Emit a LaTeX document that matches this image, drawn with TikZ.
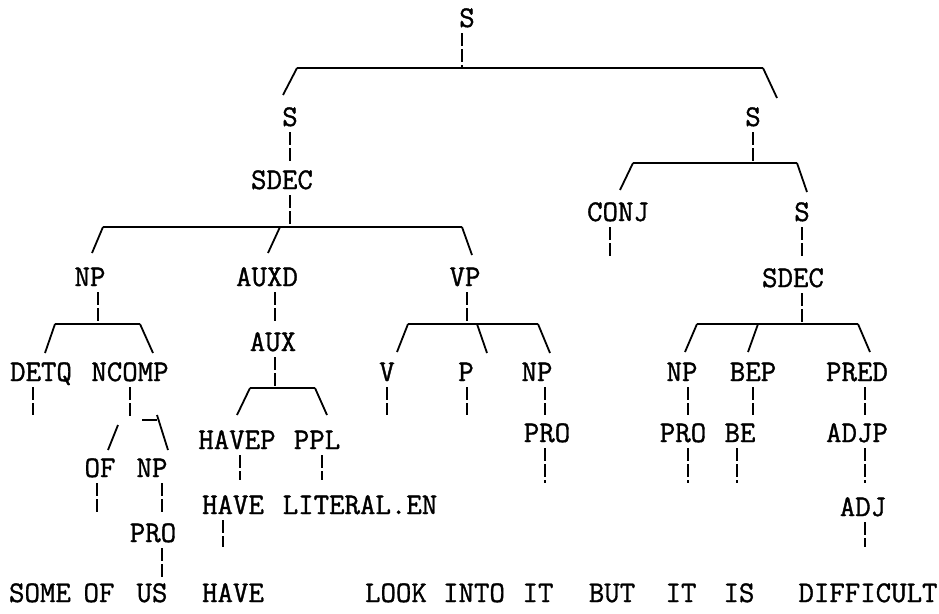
\documentclass[tikz,border=0pt]{standalone}
\usepackage{fontspec}
\newfontfamily\typew{Latin Modern Mono}[FakeBold=1.2]
\usepackage{tikz}
\tikzset{
  lbl/.style={font=\fontsize{30}{30}\selectfont\typew, inner sep=0pt, text height=18pt, text depth=0pt},
  edge/.style={line width=1.8pt},
  vbar/.style={line width=1.8pt, dash pattern=on 13pt off 3pt, shorten <=6pt}
}
\begin{document}
\begin{tikzpicture}[x=1pt,y=-1pt]
\useasboundingbox (0,0) rectangle (939,613);

% labels, top to bottom
\draw(467,18) node[lbl] (s0) {S};
\draw(290,117) node[lbl] (s1) {S};
\draw(753,117) node[lbl] (s2) {S};
\draw(282,180) node[lbl] (sdecl) {SDEC};
\draw(618,212) node[lbl] (conj) {CONJ};
\draw(802,212) node[lbl] (s3) {S};
\draw(90,277) node[lbl] (npl) {NP};
\draw(267,277) node[lbl] (auxd) {AUXD};
\draw(465,277) node[lbl] (vp) {VP};
\draw(793,278) node[lbl] (sdecr) {SDEC};
\draw(273,342) node[lbl] (aux) {AUX};
\draw(41,372) node[lbl] (detq) {DETQ};
\draw(130,372) node[lbl] (ncomp) {NCOMP};
\draw(387,372) node[lbl] (v) {V};
\draw(466,372) node[lbl] (p) {P};
\draw(537,372) node[lbl] (npv) {NP};
\draw(682,372) node[lbl] (npr) {NP};
\draw(753,372) node[lbl] (bep) {BEP};
\draw(857,372) node[lbl] (pred) {PRED};
\draw(547,433) node[lbl] (prov) {PRO};
\draw(683,433) node[lbl] (pror) {PRO};
\draw(740,433) node[lbl] (be) {BE};
\draw(857,433) node[lbl] (adjp) {ADJP};
\draw(237,440) node[lbl] (havep) {HAVEP};
\draw(317,440) node[lbl] (ppl) {PPL};
\draw(100,468) node[lbl] (of) {OF};
\draw(152,468) node[lbl] (npo) {NP};
\draw(233,505) node[lbl] (have) {HAVE};
\draw(360,505) node[lbl] (lit) {LITERAL.EN};
\draw(863,507) node[lbl] (adj) {ADJ};
\draw(153,533) node[lbl] (proo) {PRO};

% the words
\draw(40,593) node[lbl] (w1) {SOME};
\draw(99,593) node[lbl] (w2) {OF};
\draw(152,593) node[lbl] (w3) {US};
\draw(233,593) node[lbl] (w4) {HAVE};
\draw(396,593) node[lbl] (w5) {LOOK};
\draw(474,593) node[lbl] (w6) {INTO};
\draw(538,593) node[lbl] (w7) {IT};
\draw(612,593) node[lbl] (w8) {BUT};
\draw(681,593) node[lbl] (w9) {IT};
\draw(739,593) node[lbl] (w10) {IS};
\draw(868,593) node[lbl] (w11) {DIFFICULT};

% bar ends
\coordinate (bs0) at (462,67);
\coordinate (bs1) at (290,164);
\coordinate (bsdecl) at (290,226);
\coordinate (bs2) at (753,162);
\coordinate (bconj) at (610,258);
\coordinate (bs3) at (802,258);
\coordinate (bsdecr) at (802,323);
\coordinate (bnpl) at (98,323);
\coordinate (bauxd) at (275,321);
\coordinate (baux) at (275,387);
\coordinate (bvp) at (467,323);
\coordinate (bdetq) at (33,415);
\coordinate (bncomp) at (130,419);
\coordinate (bv) at (387,415);
\coordinate (bp) at (467,415);
\coordinate (bnpv) at (545,415);
\coordinate (bnpr) at (688,415);
\coordinate (bbep) at (753,415);
\coordinate (bpred) at (865,415);
\coordinate (bprov) at (545,483);
\coordinate (bpror) at (688,483);
\coordinate (bbe) at (737,483);
\coordinate (badjp) at (865,483);
\coordinate (badj) at (865,547);
\coordinate (bhavep) at (240,480);
\coordinate (bppl) at (322,480);
\coordinate (bhave) at (223,547);
\coordinate (bof) at (97,513);
\coordinate (bnpo) at (162,513);
\coordinate (bproo) at (162,578);

\foreach \n in {s0,s1,sdecl,s2,conj,s3,sdecr,npl,auxd,aux,vp,detq,ncomp,v,p,npv,npr,bep,pred,prov,pror,be,adjp,adj,havep,ppl,have,of,npo,proo}
  \draw[vbar] (\n.south -| b\n) -- (b\n);

% horizontal lines
\coordinate (h0a) at (297,68);  \coordinate (h0b) at (763,68);
\coordinate (h1a) at (103,227); \coordinate (h1m) at (280,227); \coordinate (h1b) at (462,227);
\coordinate (h2a) at (633,163); \coordinate (h2b) at (797,163);
\coordinate (h3a) at (697,324); \coordinate (h3m) at (758,324); \coordinate (h3b) at (858,324);
\coordinate (h4a) at (55,324);  \coordinate (h4b) at (140,324);
\coordinate (h5a) at (250,388); \coordinate (h5b) at (315,388);
\coordinate (h6a) at (408,324); \coordinate (h6m) at (477,324); \coordinate (h6b) at (538,324);
\coordinate (h7a) at (118,425); \coordinate (h7m) at (142,420); \coordinate (h7b) at (157,420);
\draw[edge] (h0a) -- (h0b);
\draw[edge] (h1a) -- (h1b);
\draw[edge] (h2a) -- (h2b);
\draw[edge] (h3a) -- (h3b);
\draw[edge] (h4a) -- (h4b);
\draw[edge] (h5a) -- (h5b);
\draw[edge] (h6a) -- (h6b);
\draw[edge] (h7m) -- (h7b);

% slash tips
\coordinate (ts1) at (283,95);   \coordinate (ts2) at (777,98);
\coordinate (tnpl) at (92,253);  \coordinate (tauxd) at (268,253); \coordinate (tvp) at (472,255);
\coordinate (tconj) at (620,190); \coordinate (ts3) at (807,192);
\coordinate (tnpr) at (685,352); \coordinate (tbep) at (748,352); \coordinate (tpred) at (870,352);
\coordinate (tdetq) at (45,353); \coordinate (tncomp) at (153,353);
\coordinate (thavep) at (237,415); \coordinate (tppl) at (327,415);
\coordinate (tv) at (397,352); \coordinate (tp) at (487,353); \coordinate (tnpv) at (550,353);
\coordinate (tof) at (108,450); \coordinate (tnpo) at (168,450);
\draw[edge] (h0a) -- (ts1);  \draw[edge] (h0b) -- (ts2);
\draw[edge] (h1a) -- (tnpl); \draw[edge] (h1m) -- (tauxd); \draw[edge] (h1b) -- (tvp);
\draw[edge] (h2a) -- (tconj); \draw[edge] (h2b) -- (ts3);
\draw[edge] (h3a) -- (tnpr); \draw[edge] (h3m) -- (tbep); \draw[edge] (h3b) -- (tpred);
\draw[edge] (h4a) -- (tdetq); \draw[edge] (h4b) -- (tncomp);
\draw[edge] (h5a) -- (thavep); \draw[edge] (h5b) -- (tppl);
\draw[edge] (h6a) -- (tv); \draw[edge] (h6m) -- (tp); \draw[edge] (h6b) -- (tnpv);
\draw[edge] (h7a) -- (tof); \draw[edge] ([yshift=5pt]h7b) -- (tnpo);
\end{tikzpicture}
\end{document}
